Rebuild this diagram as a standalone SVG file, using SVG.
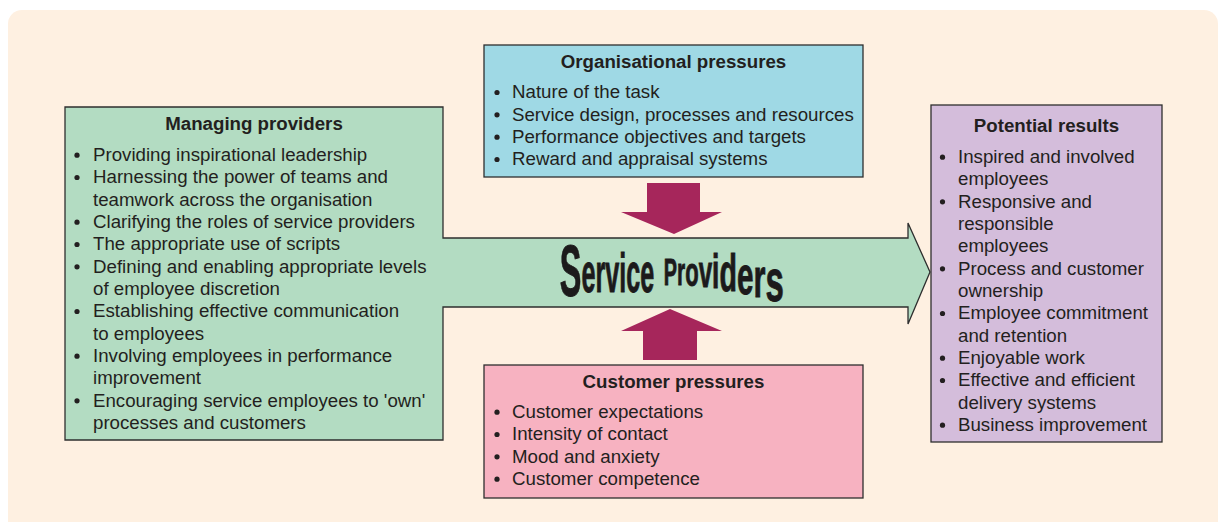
<svg xmlns="http://www.w3.org/2000/svg" width="1219" height="522" viewBox="0 0 1219 522">
<style>
.t{font-family:"Liberation Sans",Arial,sans-serif;font-size:18.7px;fill:#231f20}
.h{font-weight:bold;text-anchor:middle}
.box{stroke:#2e2e2e;stroke-width:1.3}
.b{fill:#231f20}
.pa{fill:#a6265b}
.sp{font-family:"Liberation Sans",Arial,sans-serif;font-weight:bold;fill:#1c1a1b;stroke:#1c1a1b;stroke-width:0.9}
</style>
<rect x="8" y="10" width="1210" height="530" rx="14" fill="#fef0e1"/>

<g id="managing-providers">
<path class="box" d="M65,107 L443,107 L443,238 L908,238 L908,223 L930,272 L908,324 L908,307 L443,307 L443,440 L65,440 Z" fill="#b3dcc2" stroke="#4d4d4d"/>
<text class="t h" x="254" y="130">Managing providers</text>
<g class="b">
<circle cx="77" cy="155.2" r="2.6"/><circle cx="77" cy="177.5" r="2.6"/><circle cx="77" cy="222.2" r="2.6"/><circle cx="77" cy="244.5" r="2.6"/><circle cx="77" cy="266.8" r="2.6"/><circle cx="77" cy="311.5" r="2.6"/><circle cx="77" cy="356.2" r="2.6"/><circle cx="77" cy="400.8" r="2.6"/>
</g>
<text class="t" x="93" y="161">Providing inspirational leadership</text>
<text class="t" x="93" y="183.3">Harnessing the power of teams and</text>
<text class="t" x="93" y="205.7">teamwork across the organisation</text>
<text class="t" x="93" y="228">Clarifying the roles of service providers</text>
<text class="t" x="93" y="250.3">The appropriate use of scripts</text>
<text class="t" x="93" y="272.7">Defining and enabling appropriate levels</text>
<text class="t" x="93" y="295">of employee discretion</text>
<text class="t" x="93" y="317.3">Establishing effective communication</text>
<text class="t" x="93" y="339.7">to employees</text>
<text class="t" x="93" y="362">Involving employees in performance</text>
<text class="t" x="93" y="384.3">improvement</text>
<text class="t" x="93" y="406.7">Encouraging service employees to 'own'</text>
<text class="t" x="93" y="429">processes and customers</text>
</g>

<g id="service-providers">
<text class="sp" transform="scale(0.45,1)"><tspan x="1244" y="296" font-size="72">S</tspan><tspan y="292" font-size="56">ervice</tspan></text>
<text class="sp" transform="scale(0.55,1)"><tspan x="1207" y="285" font-size="36">P</tspan><tspan y="285" font-size="38">r</tspan><tspan y="286" font-size="40">o</tspan><tspan y="287" font-size="44">v</tspan><tspan y="288" font-size="48">i</tspan><tspan y="291" font-size="52">d</tspan><tspan y="294" font-size="54">e</tspan><tspan y="297" font-size="56">r</tspan><tspan y="301" font-size="60">s</tspan></text>
</g>

<g id="organisational-pressures">
<rect class="box" x="484" y="45" width="379" height="132" fill="#9fd9e5"/>
<text class="t h" x="673.5" y="68">Organisational pressures</text>
<g class="b">
<circle cx="497" cy="92.5" r="2.6"/><circle cx="497" cy="114.8" r="2.6"/><circle cx="497" cy="137.2" r="2.6"/><circle cx="497" cy="159.5" r="2.6"/>
</g>
<text class="t" x="512" y="98.3">Nature of the task</text>
<text class="t" x="512" y="120.6">Service design, processes and resources</text>
<text class="t" x="512" y="143">Performance objectives and targets</text>
<text class="t" x="512" y="165.3">Reward and appraisal systems</text>
</g>

<g id="customer-pressures">
<rect class="box" x="484" y="365" width="379" height="133" fill="#f7b2c1"/>
<text class="t h" x="673.5" y="388">Customer pressures</text>
<g class="b">
<circle cx="497" cy="412.2" r="2.6"/><circle cx="497" cy="434.5" r="2.6"/><circle cx="497" cy="456.8" r="2.6"/><circle cx="497" cy="479.2" r="2.6"/>
</g>
<text class="t" x="512" y="418">Customer expectations</text>
<text class="t" x="512" y="440.3">Intensity of contact</text>
<text class="t" x="512" y="462.6">Mood and anxiety</text>
<text class="t" x="512" y="485">Customer competence</text>
</g>

<g id="potential-results">
<rect class="box" x="931" y="105" width="231" height="337" fill="#d4bddb"/>
<text class="t h" x="1046.5" y="132">Potential results</text>
<g class="b">
<circle cx="942.5" cy="157.2" r="2.6"/><circle cx="942.5" cy="201.8" r="2.6"/><circle cx="942.5" cy="268.8" r="2.6"/><circle cx="942.5" cy="313.5" r="2.6"/><circle cx="942.5" cy="358.2" r="2.6"/><circle cx="942.5" cy="380.5" r="2.6"/><circle cx="942.5" cy="425.2" r="2.6"/>
</g>
<text class="t" x="958" y="163">Inspired and involved</text>
<text class="t" x="958" y="185.3">employees</text>
<text class="t" x="958" y="207.6">Responsive and</text>
<text class="t" x="958" y="230">responsible</text>
<text class="t" x="958" y="252.3">employees</text>
<text class="t" x="958" y="274.6">Process and customer</text>
<text class="t" x="958" y="297">ownership</text>
<text class="t" x="958" y="319.3">Employee commitment</text>
<text class="t" x="958" y="341.6">and retention</text>
<text class="t" x="958" y="364">Enjoyable work</text>
<text class="t" x="958" y="386.3">Effective and efficient</text>
<text class="t" x="958" y="408.6">delivery systems</text>
<text class="t" x="958" y="431">Business improvement</text>
</g>

<g id="connectors">
<polygon class="pa" points="647,183 700,183 700,212 722,212 674,234 621,212 647,212"/>
<polygon class="pa" points="670,309 722,331 697,331 697,360 643,360 643,331 621,331"/>
</g>
</svg>
